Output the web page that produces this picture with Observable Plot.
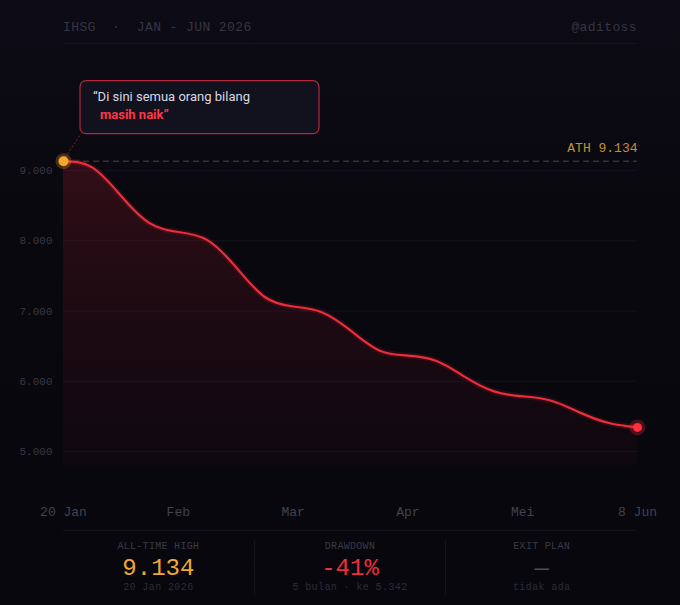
<!DOCTYPE html>
<html>
<head>
<meta charset="utf-8">
<script src="https://cdn.jsdelivr.net/npm/d3@7"></script>
<script src="https://cdn.jsdelivr.net/npm/@observablehq/plot@0.6"></script>
<style>
  html, body { margin: 0; padding: 0; }
  body { width: 680px; height: 605px; overflow: hidden;
         background: linear-gradient(#0d0b15 0%, #09080f 35%, #07070d 100%); }
  .mono { font-family: "Liberation Mono", "DejaVu Sans Mono", monospace; }
  #header { box-sizing: border-box; height: 44px; margin: 0 43px 0 63px; padding-top: 20px;
            border-bottom: 1px solid #15141e; display: flex; justify-content: space-between;
            font-size: 13px; line-height: 16px; color: #363542; letter-spacing: 0.4px; white-space: pre; }
  #chart svg { display: block; }
  #stats { box-sizing: border-box; height: 75px; margin: 0 43px 0 63px; border-top: 1px solid #15141e;
           display: flex; }
  .col { flex: 1; margin-top: 9px; height: 55px; text-align: center; }
  .col + .col { border-left: 1px solid #15141e; }
  .lbl { font-size: 10px; line-height: 14px; color: #3b3a48; letter-spacing: 0.3px; }
  .val { font-size: 24px; line-height: 26px; margin-top: 2px; }
  .sub { font-size: 10px; line-height: 12px; color: #2d2c38; letter-spacing: 0.4px; white-space: pre; }
</style>
</head>
<body>
<div id="header" class="mono"><span>IHSG  ·  JAN - JUN 2026</span><span>@aditoss</span></div>
<div id="chart"></div>
<div id="stats" class="mono"></div>
<script>
// ---- data ----
const weekIndex = [0,1,2,3,4,5,6,7,8,9,10,11,12,13,14,15,16,17,18,19,20];
const closeValues = [9134, 9045, 8642, 8251, 8125, 8013, 7630, 7203, 7064, 6983, 6723,
                     6439, 6365, 6288, 6059, 5856, 5785, 5723, 5553, 5405, 5342];
const xTickIndex = [0, 4, 8, 12, 16, 20];
const xTickLabels = ["20 Jan", "Feb", "Mar", "Apr", "Mei", "8 Jun"];
const yTicks = [5000, 6000, 7000, 8000, 9000];
const athValue = 9134;
const athDate = "20 Jan 2026";
const lastValue = 5342;
const calloutLine1 = "\u201CDi sini semua orang bilang";
const calloutLine2 = "masih naik\u201D";
const statLabels = ["ALL-TIME HIGH", "DRAWDOWN", "EXIT PLAN"];
const statSubs = [athDate, "5 bulan \u00B7 ke 5.342", "tidak ada"];

const data = weekIndex.map((i, k) => ({i, v: closeValues[k]}));
const idFmt = d3.formatLocale({decimal: ",", thousands: ".", grouping: [3], currency: ["", ""]}).format(",");
const drawdown = Math.trunc((lastValue - athValue) / athValue * 100);
const statValues = [idFmt(athValue), `${drawdown}%`, "\u2014"];
const statColors = ["#f0a733", "#ee2f3a", "#4e4d5b"];

const MONO = "Liberation Mono, DejaVu Sans Mono, monospace";

function defsMark() {
  const g = d3.create("svg:defs");
  const lg = g.append("linearGradient").attr("id", "areaGrad")
    .attr("x1", 0).attr("y1", 0).attr("x2", 0).attr("y2", 1);
  lg.append("stop").attr("offset", "0%").attr("stop-color", "#c0202e").attr("stop-opacity", 0.22);
  lg.append("stop").attr("offset", "100%").attr("stop-color", "#7a1020").attr("stop-opacity", 0.06);
  return g.node();
}

function calloutMark(index, scales) {
  const px = scales.x(0), py = scales.y(athValue);
  const g = d3.create("svg:g").attr("text-anchor", "start");
  g.append("line")
    .attr("x1", px).attr("y1", py).attr("x2", px + 18).attr("y2", py - 27)
    .attr("stroke", "#a8283a").attr("stroke-width", 1).attr("stroke-dasharray", "2,2").attr("stroke-opacity", 0.7);
  g.append("rect")
    .attr("x", px + 17).attr("y", py - 80).attr("width", 239).attr("height", 53)
    .attr("rx", 6).attr("fill", "#12111e").attr("stroke", "#b4283a").attr("stroke-width", 1.2);
  const t = g.append("text").attr("text-anchor", "start")
    .attr("font-family", "Roboto, 'Noto Sans', sans-serif").attr("font-size", 13);
  t.append("tspan").attr("x", px + 30).attr("y", py - 64).attr("dy", "0.35em")
    .attr("fill", "#d9d9e2").text(calloutLine1);
  t.append("tspan").attr("x", px + 37).attr("y", py - 46).attr("dy", "0.35em")
    .attr("fill", "#ff3744").attr("font-weight", "bold").text(calloutLine2);
  return g.node();
}

const CURVE = "natural";

const plot = Plot.plot({
  width: 680,
  height: 486,
  marginTop: 98,
  marginBottom: 65,
  marginLeft: 63,
  marginRight: 43,
  style: {background: "transparent", color: "#3b3a47", fontFamily: MONO},
  x: {domain: [0, 20]},
  y: {domain: [4800, 9400]},
  marks: [
    defsMark,
    Plot.gridY(yTicks, {stroke: "#14131d", strokeOpacity: 1}),
    Plot.axisY(yTicks, {tickSize: 0, tickPadding: 11, fontSize: 11, fill: "#383744",
      tickFormat: idFmt, label: null}),
    Plot.axisX(xTickIndex, {tickSize: 0, tickPadding: 41, fontSize: 13, fill: "#434250",
      tickFormat: (d) => xTickLabels[xTickIndex.indexOf(d)], label: null}),
    Plot.areaY(data, {x: "i", y1: 4800, y2: "v", curve: CURVE, fill: "url(#areaGrad)"}),
    Plot.ruleY([athValue], {stroke: "#4e4b3f", strokeDasharray: "6,4", strokeWidth: 1}),
    Plot.text([athValue], {x: 20, y: (d) => d, text: (d) => `ATH ${idFmt(d)}`, textAnchor: "end",
      dy: -13, fill: "#c38f35", fontSize: 13, fontFamily: MONO}),
    Plot.line(data, {x: "i", y: "v", curve: CURVE, stroke: "#ec2d3a", strokeWidth: 6,
      strokeOpacity: 0.12}),
    Plot.line(data, {x: "i", y: "v", curve: CURVE, stroke: "#ec2d3a", strokeWidth: 2.2}),
    calloutMark,
    Plot.dot([data[0]], {x: "i", y: "v", r: 8, fill: "#f4a92c", fillOpacity: 0.25}),
    Plot.dot([data[0]], {x: "i", y: "v", r: 5, fill: "#f4a92c"}),
    Plot.dot([data[data.length - 1]], {x: "i", y: "v", r: 8, fill: "#ff2f3d", fillOpacity: 0.25}),
    Plot.dot([data[data.length - 1]], {x: "i", y: "v", r: 4.5, fill: "#ff2f3d"})
  ]
});
document.getElementById("chart").append(plot);

const stats = d3.select("#stats");
statLabels.forEach((lbl, k) => {
  const c = stats.append("div").attr("class", "col");
  c.append("div").attr("class", "lbl").text(lbl);
  c.append("div").attr("class", "val").style("color", statColors[k]).text(statValues[k]);
  c.append("div").attr("class", "sub").text(statSubs[k]);
});
</script>
</body>
</html>
